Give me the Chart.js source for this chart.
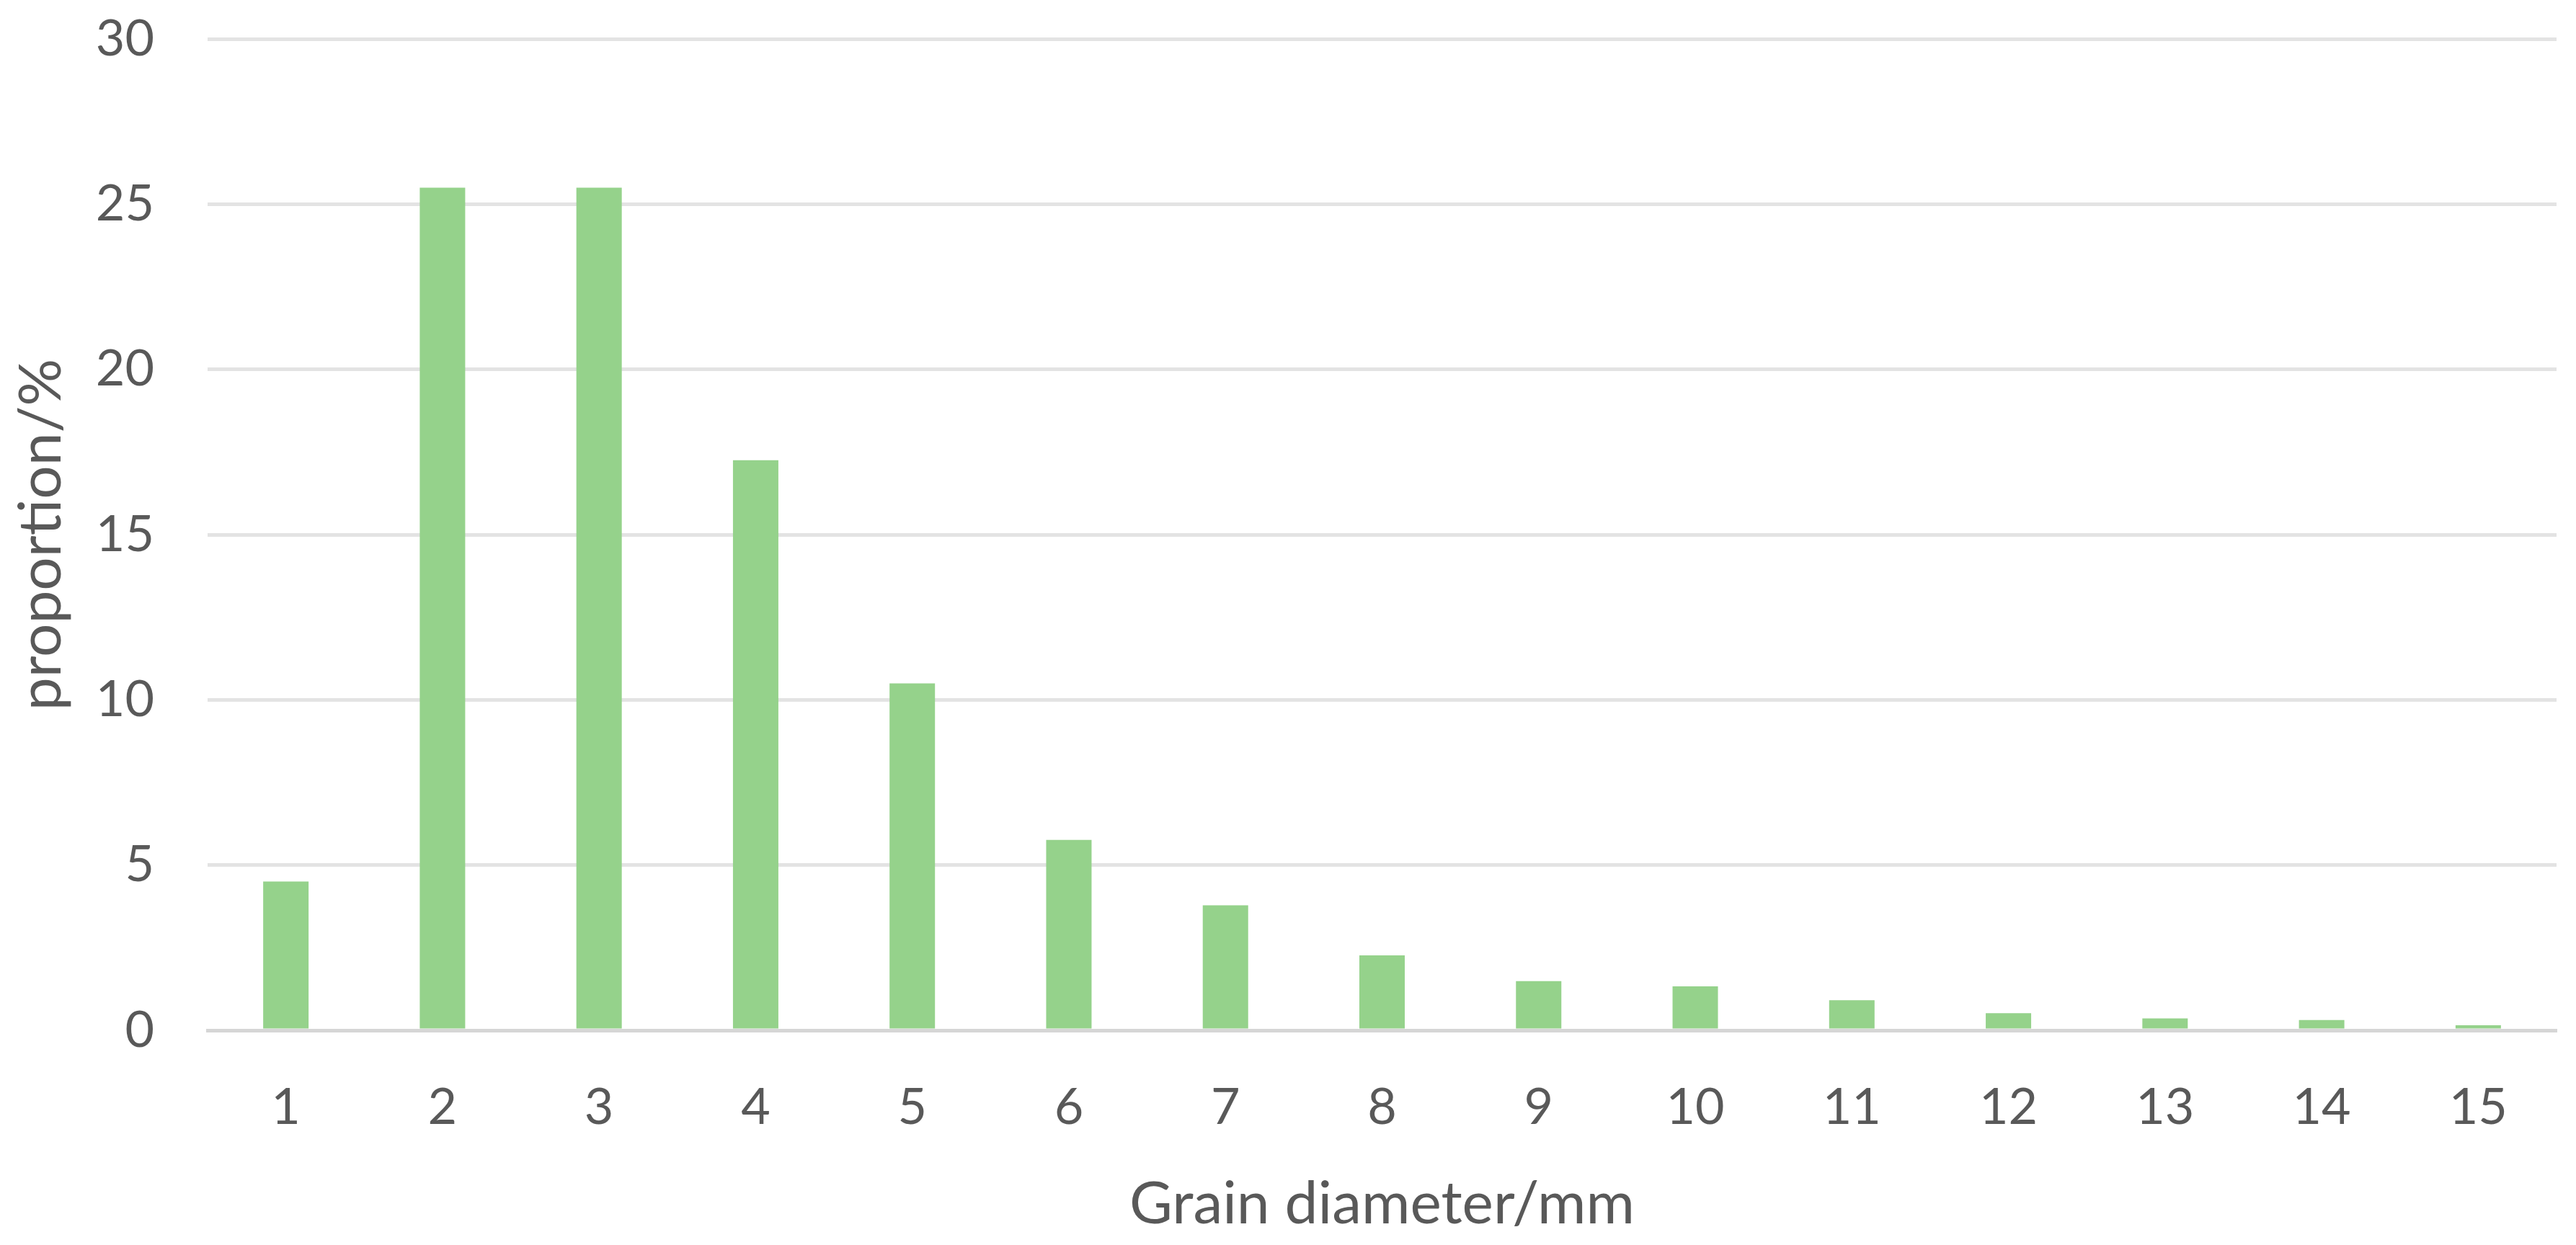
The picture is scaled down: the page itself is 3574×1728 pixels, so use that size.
<!DOCTYPE html>
<html>
<head>
<meta charset="utf-8">
<script src="https://cdn.jsdelivr.net/npm/chart.js@4.4.0/dist/chart.umd.min.js"></script>
<style>
  html, body { margin: 0; padding: 0; background: #fff; }
  #wrap { width: 3574px; height: 1728px; }
</style>
</head>
<body>
<div id="wrap"><canvas id="grainChart" width="3574" height="1728"></canvas></div>
<script>
// grain size classes (mm) and their share in percent
var diameters = ['1', '2', '3', '4', '5', '6', '7', '8', '9', '10', '11', '12', '13', '14', '15'];
var proportion = [4.5, 25.5, 25.5, 17.25, 10.5, 5.76, 3.78, 2.27, 1.49, 1.33, 0.91, 0.52, 0.36, 0.31, 0.15];
var yTicks = [0, 5, 10, 15, 20, 25, 30];

var textColor = '#595959';
var fontName = 'Lato, "Open Sans", sans-serif';

var ctx = document.getElementById('grainChart').getContext('2d');

new Chart(ctx, {
    type: 'bar',
    data: {
        labels: diameters,
        datasets: [{
            data: proportion,
            backgroundColor: '#95d28b',
            borderWidth: 0,
            barPercentage: 0.29,
            categoryPercentage: 1.0
        }]
    },
    options: {
        responsive: false,
        animation: false,
        layout: {
            padding: { top: 54, right: 27, bottom: 0, left: 0 }
        },
        plugins: {
            legend: { display: false },
            tooltip: { enabled: false }
        },
        scales: {
            x: {
                grid: { display: false, drawTicks: false },
                border: { display: true, color: '#d6d6d6', width: 5 },
                ticks: {
                    color: textColor,
                    font: { family: fontName, size: 70 },
                    padding: 65,
                    maxRotation: 0
                },
                title: {
                    display: true,
                    text: 'Grain diameter/mm',
                    color: textColor,
                    font: { family: fontName, size: 82 },
                    padding: { top: 0, bottom: 7 }
                },
                afterFit: function(scale) { scale.height = 298; }
            },
            y: {
                min: yTicks[0],
                max: yTicks[yTicks.length - 1],
                grid: { color: '#e3e3e3', lineWidth: 5, drawTicks: false },
                border: { display: false },
                afterBuildTicks: function(scale) {
                    scale.ticks = yTicks.map(function(v) { return { value: v }; });
                },
                ticks: {
                    color: textColor,
                    font: { family: fontName, size: 70 },
                    padding: 74
                },
                title: {
                    display: true,
                    text: 'proportion/%',
                    color: textColor,
                    font: { family: fontName, size: 82 },
                    padding: { top: 8, bottom: 0 }
                },
                afterFit: function(scale) {
                    scale.width = 288;
                    // label padding would otherwise push the plot down
                    scale.paddingTop = 0;
                    scale.paddingBottom = 0;
                }
            }
        }
    }
});
</script>
</body>
</html>
